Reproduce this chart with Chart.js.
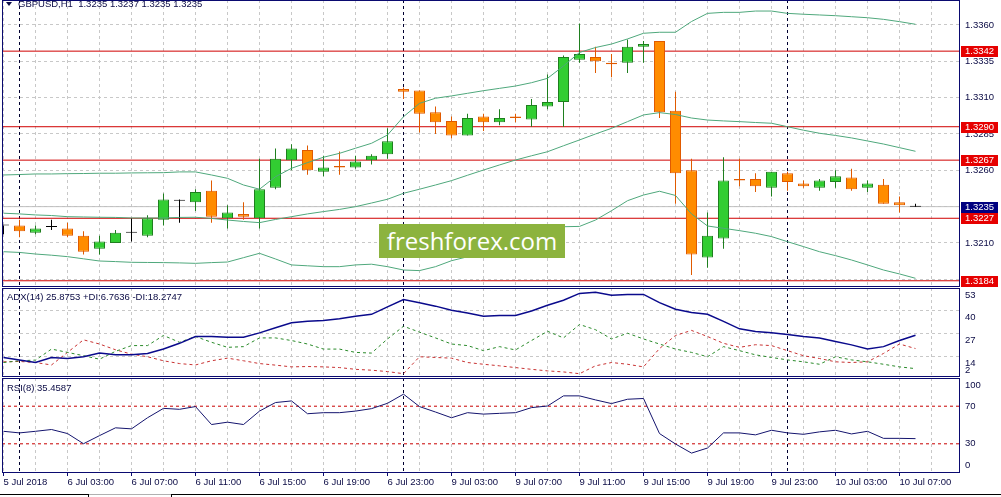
<!DOCTYPE html>
<html lang="en">
<head>
<meta charset="utf-8">
<title>GBPUSD,H1</title>
<script src="https://cdn.jsdelivr.net/npm/chart.js@4.4.1/dist/chart.umd.min.js"></script>
<style>
  html, body { margin: 0; padding: 0; background: #fff; }
  body { position: relative; width: 1001px; height: 497px; overflow: hidden;
         font-family: 'Liberation Sans', Arial, sans-serif; color: #0b0b45; }
  canvas { position: absolute; left: 0; }
  .caption { position: absolute; font-size: 9.5px; line-height: 11px; white-space: pre; }
  #title { left: 18px; top: -2px; }
  #arrow { position: absolute; left: 6px; top: 2px; width: 0; height: 0;
           border-left: 3px solid transparent; border-right: 3px solid transparent;
           border-top: 4px solid #0b0b45; }
  #adxCaption { left: 7px; top: 291px; }
  #rsiCaption { left: 7px; top: 382px; }
  #watermark { position: absolute; left: 379px; top: 224px; width: 186px; height: 34px;
               background: #8cb33e; color: #fff; font: 24px 'Open Sans', sans-serif;
               line-height: 33px; text-align: center; }
  .tab { position: absolute; top: 494px; height: 4px; border-top: 1px solid #000; }
</style>
</head>
<body>
<canvas id="mainChart" width="1001" height="287" style="top:0"></canvas>
<canvas id="adxChart" width="1001" height="89" style="top:288px"></canvas>
<canvas id="rsiChart" width="1001" height="119" style="top:378px"></canvas>

<div id="arrow"></div>
<div id="title" class="caption">GBPUSD,H1  1.3235 1.3237 1.3235 1.3235</div>
<div id="adxCaption" class="caption">ADX(14) 25.8753 +DI:6.7636 -DI:18.2747</div>
<div id="rsiCaption" class="caption">RSI(8) 35.4587</div>
<div id="watermark">freshforex.com</div>
<div class="tab" style="left:0;width:88px;border-right:1px solid #000"></div>
<div class="tab" style="left:89px;width:82px;border-top-color:#b0b0b0"></div>
<div class="tab" style="left:171px;width:830px;border-left:1px solid #000"></div>

<script>
// GBPUSD H1, 5 Jul 23:00 .. 10 Jul 08:00 (58 bars)
const opens = [1.3222,1.3222,1.3217,1.3221,1.3220,1.3215,1.3206,1.3210,1.3217,1.3215,
  1.3226,1.3239,1.3238,1.3246,1.3227,1.3230,1.3227,1.3248,1.3267,1.3274,
  1.3259,1.3263,1.3262,1.3267,1.3271,1.3316,1.3315,1.3300,1.3294,1.3284,
  1.3297,1.3293,1.3297,1.3295,1.3304,1.3307,1.3336,1.3338,1.3334,1.3334,
  1.3345,1.3349,1.3301,1.3260,1.3200,1.3213,1.3254,1.3254,1.3248,1.3258,
  1.3251,1.3248,1.3252,1.3255,1.3248,1.3250,1.3238,1.3235];
const highs = [1.3222,1.3226,1.3222,1.3226,1.3224,1.3218,1.3215,1.3219,1.3227,1.3229,
  1.3244,1.3240,1.3247,1.3253,1.3236,1.3238,1.3268,1.3275,1.3278,1.3277,
  1.3270,1.3273,1.3270,1.3271,1.3289,1.3317,1.3315,1.3304,1.3297,1.3299,
  1.3299,1.3302,1.3299,1.3309,1.3326,1.3339,1.3361,1.3345,1.3340,1.3350,
  1.3349,1.3349,1.3314,1.3268,1.3231,1.3269,1.3268,1.3258,1.3259,1.3259,
  1.3253,1.3254,1.3260,1.3261,1.3253,1.3254,1.3242,1.3237];
const lows = [1.3216,1.3214,1.3216,1.3219,1.3214,1.3202,1.3202,1.3210,1.3211,1.3214,
  1.3222,1.3224,1.3232,1.3224,1.3220,1.3226,1.3220,1.3247,1.3260,1.3257,
  1.3256,1.3257,1.3261,1.3264,1.3268,1.3309,1.3286,1.3285,1.3282,1.3284,
  1.3287,1.3291,1.3293,1.3290,1.3302,1.3290,1.3334,1.3327,1.3324,1.3327,
  1.3334,1.3296,1.3237,1.3188,1.3193,1.3206,1.3249,1.3245,1.3242,1.3246,
  1.3248,1.3246,1.3248,1.3246,1.3245,1.3237,1.3231,1.3235];
const closes = [1.3222,1.3218,1.3220,1.3221,1.3215,1.3204,1.3211,1.3217,1.3217,1.3227,
  1.3240,1.3239,1.3245,1.3228,1.3231,1.3228,1.3247,1.3268,1.3275,1.3260,
  1.3262,1.3262,1.3266,1.3270,1.3280,1.3314,1.3299,1.3293,1.3284,1.3296,
  1.3293,1.3296,1.3296,1.3305,1.3307,1.3338,1.3340,1.3335,1.3333,1.3345,
  1.3347,1.3300,1.3258,1.3202,1.3215,1.3253,1.3253,1.3249,1.3259,1.3252,
  1.3249,1.3253,1.3256,1.3247,1.3251,1.3237,1.3236,1.3235];

// Bollinger bands
const bbUpper = [1.32568,1.32571,1.32575,1.32575,1.32577,1.32578,1.32580,1.32580,1.32582,1.32583,
  1.32584,1.32589,1.32589,1.32568,1.32545,1.32499,1.32470,1.32556,1.32614,1.32653,
  1.32690,1.32717,1.32752,1.32786,1.32843,1.32969,1.33061,1.33096,1.33112,1.33130,
  1.33148,1.33164,1.33180,1.33203,1.33233,1.33318,1.33411,1.33445,1.33469,1.33504,
  1.33543,1.33550,1.33550,1.33624,1.33680,1.33687,1.33687,1.33696,1.33696,1.33680,
  1.33674,1.33669,1.33664,1.33657,1.33650,1.33639,1.33623,1.33605];
const bbMiddle = [1.32305,1.32300,1.32293,1.32289,1.32281,1.32279,1.32277,1.32276,1.32272,1.32272,
  1.32272,1.32276,1.32277,1.32269,1.32258,1.32248,1.32240,1.32262,1.32281,1.32300,
  1.32316,1.32331,1.32350,1.32375,1.32401,1.32442,1.32470,1.32499,1.32529,1.32566,
  1.32602,1.32637,1.32671,1.32700,1.32728,1.32769,1.32809,1.32850,1.32889,1.32935,
  1.32981,1.32997,1.32984,1.32960,1.32946,1.32940,1.32935,1.32929,1.32924,1.32900,
  1.32876,1.32855,1.32840,1.32823,1.32802,1.32781,1.32756,1.32731];
const bbLower = [1.32040,1.32035,1.32024,1.32016,1.32006,1.31991,1.31976,1.31972,1.31967,1.31966,
  1.31965,1.31963,1.31960,1.31965,1.31969,1.31999,1.32029,1.31990,1.31949,1.31943,
  1.31937,1.31937,1.31949,1.31954,1.31937,1.31914,1.31910,1.31937,1.31978,1.32005,
  1.32050,1.32095,1.32140,1.32175,1.32205,1.32212,1.32214,1.32258,1.32322,1.32391,
  1.32430,1.32456,1.32427,1.32300,1.32217,1.32201,1.32185,1.32167,1.32144,1.32109,
  1.32075,1.32040,1.32013,1.31983,1.31949,1.31914,1.31887,1.31857];

// ADX(14)
const adxMain = [13.2,11.7,10.3,13.2,12.6,13.6,15.7,14.7,14.7,15.5,
  18.0,21.3,25.2,25.2,24.8,24.8,27.3,30.2,33.1,34.0,
  34.4,35.4,36.8,37.9,42.2,46.4,44.5,42.6,40.2,38.7,
  36.8,37.3,37.3,39.8,43.1,46.0,49.9,50.5,48.9,49.3,
  49.3,44.6,40.8,38.9,37.9,33.9,29.6,28.1,27.3,26.3,
  25.2,24.4,22.3,20.4,18.0,19.4,22.9,25.9];
const plusDI = [10.3,11.3,11.7,18.0,16.1,14.2,12.2,16.7,20.0,20.0,
  25.8,21.9,25.2,21.9,19.0,19.4,24.4,24.4,22.9,20.9,
  18.0,18.0,16.1,15.7,23.8,31.1,27.7,24.4,20.9,20.0,
  17.1,19.4,17.5,22.9,28.2,24.4,32.1,29.1,23.8,27.1,
  23.8,20.9,18.0,16.1,13.6,19.4,17.1,14.7,13.2,11.8,
  10.7,9.3,13.6,11.8,10.7,9.3,7.8,6.8];
const minusDI = [10.7,10.9,10.3,8.9,16.1,23.3,20.9,17.6,15.1,13.6,
  11.3,9.7,8.9,11.3,12.8,11.3,9.7,8.8,7.8,8.0,
  7.8,7.4,6.4,5.9,5.1,3.9,13.6,13.2,12.8,10.3,
  9.3,8.4,7.4,6.4,5.5,4.9,3.9,8.4,10.3,9.3,
  7.8,18.3,25.8,28.7,25.2,21.3,19.0,20.5,20.0,17.1,
  14.2,12.6,10.7,10.3,10.7,15.5,20.9,18.3];

// RSI(8)
const rsi = [43.3,41.6,43.3,45.2,40.9,30.1,38.7,47.0,45.9,57.7,
  67.7,66.7,69.6,50.5,53.0,50.5,64.8,73.9,75.6,62.0,
  63.1,63.1,64.8,67.4,73.1,82.8,69.6,63.8,57.7,63.1,
  61.6,62.4,63.1,68.5,70.2,81.0,81.0,76.7,72.8,77.4,
  78.2,40.9,29.8,20.1,25.5,41.6,41.6,39.5,44.4,41.6,
  40.1,42.7,44.4,40.5,43.3,35.8,35.8,35.5];

// levels and axis ticks
const levels = [1.3342, 1.3290, 1.3267, 1.3227, 1.3184];
const lastPrice = 1.3235;
const priceTicks = [1.3185, 1.3210, 1.3235, 1.3260, 1.3285, 1.3310, 1.3335, 1.3360];
const adxTicks = [53, 40, 27, 14, 2];
const rsiTicks = [100, 70, 30, 0];
const rsiLevels = [70, 30];
const daySeparators = [1, 25, 49];
// one label every 4 bars, starting at bar 0
const timeLabels = ['5 Jul 2018', '6 Jul 03:00', '6 Jul 07:00', '6 Jul 11:00', '6 Jul 15:00',
  '6 Jul 19:00', '6 Jul 23:00', '9 Jul 03:00', '9 Jul 07:00', '9 Jul 11:00', '9 Jul 15:00',
  '9 Jul 19:00', '9 Jul 23:00', '10 Jul 03:00', '10 Jul 07:00'];

const X_MIN = -0.09375, X_MAX = 59.71875;
const PRICE_MIN = 1.31804, PRICE_MAX = 1.33772;

const TEXT = '#0b0b45';
const FRAME = '#0a0a70';
const GRID = '#c8c8c8';
const LEVEL = '#d00000';
const BULL_FILL = '#32cd32', BULL_LINE = '#1f7f1f';
const BEAR_FILL = '#ff8c00', BEAR_LINE = '#e05a00';
const DOJI = '#000000';
const BB = '#4fa87c';
const FONT = '9.5px "Liberation Sans", Arial, sans-serif';

Chart.defaults.font.family = '"Liberation Sans", Arial, sans-serif';
Chart.defaults.font.size = 9.5;
Chart.defaults.color = TEXT;

const gridIdx = [];
for (let i = 0; i <= 58; i += 2) gridIdx.push(i);

const series = arr => arr.map((v, i) => ({x: i, y: v}));
const hline = v => [{x: X_MIN, y: v}, {x: X_MAX, y: v}];
const lineDs = (data, color, extra) => Object.assign({
  type: 'line', data, borderColor: color, borderWidth: 1,
  pointRadius: 0, fill: false, tension: 0
}, extra || {});

function xAxis(showLabels) {
  return {
    type: 'linear', min: X_MIN, max: X_MAX, offset: false,
    afterBuildTicks: s => { s.ticks = gridIdx.map(v => ({value: v})); },
    grid: {
      color: GRID, offset: false, drawTicks: showLabels, tickLength: 4,
      tickColor: c => (c.tick && c.tick.value % 4 === 0) ? FRAME : 'rgba(0,0,0,0)'
    },
    border: { display: false, dash: [3, 3] },
    ticks: {
      display: showLabels, autoSkip: false, maxRotation: 0, minRotation: 0,
      align: 'start', padding: 1, color: TEXT,
      callback: v => (v % 4 === 0 && timeLabels[v / 4]) || ''
    },
    afterFit: s => { s.paddingLeft = 0; s.paddingRight = 0; s.height = showLabels ? 25 : 0; }
  };
}

function yAxis(min, max, ticks, extra) {
  return Object.assign({
    position: 'right', min, max,
    afterBuildTicks: s => { s.ticks = ticks.map(v => ({value: v})); },
    grid: { color: GRID, drawTicks: false },
    border: { display: false, dash: [3, 3] },
    ticks: { display: false },
    afterFit: s => { s.width = 42; s.paddingTop = 0; s.paddingBottom = 0; }
  }, extra || {});
}

const framePlugin = {
  id: 'frame',
  afterDatasetsDraw(chart) {
    const {ctx, chartArea: a} = chart;
    const top = a.top + 0.5, bottom = Math.min(a.bottom + 0.5, chart.height - 0.5);
    ctx.save();
    ctx.strokeStyle = FRAME;
    ctx.lineWidth = 1;
    ctx.strokeRect(a.left + 0.5, top, a.right - a.left, bottom - top);
    ctx.restore();
  }
};

const separatorPlugin = {
  id: 'daySeparators',
  beforeDatasetsDraw(chart) {
    const {ctx, chartArea: a, scales: {x}} = chart;
    ctx.save();
    ctx.strokeStyle = '#000030';
    ctx.lineWidth = 1;
    ctx.setLineDash([3, 3]);
    daySeparators.forEach(i => {
      const px = Math.floor(x.getPixelForValue(i)) + 0.5;
      ctx.beginPath();
      ctx.moveTo(px, a.top);
      ctx.lineTo(px, a.bottom);
      ctx.stroke();
    });
    ctx.restore();
  }
};

// MT4-like side scale: labels clamped inside the panel
function sideLabels(values, offset) {
  return {
    id: 'sideLabels',
    afterDraw(chart) {
      const {ctx, chartArea: a, scales: {y}} = chart;
      ctx.save();
      ctx.fillStyle = TEXT;
      ctx.font = FONT;
      ctx.textAlign = 'left';
      ctx.textBaseline = 'middle';
      values.forEach(v => {
        let py = y.getPixelForValue(v) + offset;
        py = Math.max(a.top + 7, Math.min(a.bottom - 7, py));
        ctx.fillText(String(v), a.right + 6, py);
      });
      ctx.restore();
    }
  };
}

const priceBoxes = {
  id: 'priceBoxes',
  afterDraw(chart) {
    const {ctx, chartArea: a, scales: {y}} = chart;
    ctx.save();
    ctx.font = FONT;
    ctx.textAlign = 'left';
    ctx.textBaseline = 'middle';
    const box = (v, bg) => {
      const py = Math.round(y.getPixelForValue(v));
      ctx.fillStyle = bg;
      ctx.fillRect(a.right + 2, py - 5, 37, 11);
      ctx.fillStyle = '#ffffff';
      ctx.fillText(v.toFixed(4), a.right + 6, py + 0.5);
    };
    levels.forEach(v => box(v, '#e60000'));
    box(lastPrice, '#000080');
    ctx.restore();
  }
};

const idx = opens.map((_, i) => i);
const isDoji = i => opens[i] === closes[i];
const isBull = i => closes[i] > opens[i];
const candleLine = i => isDoji(i) ? DOJI : (isBull(i) ? BULL_LINE : BEAR_LINE);
const candleFill = i => isDoji(i) ? DOJI : (isBull(i) ? BULL_FILL : BEAR_FILL);

const common = {
  responsive: false,
  devicePixelRatio: 1,
  animation: false,
  events: [],
  plugins: { legend: { display: false }, tooltip: { enabled: false } }
};

new Chart(document.getElementById('mainChart'), {
  type: 'line',
  data: {
    datasets: [
      lineDs(series(bbUpper), BB, { order: 0 }),
      lineDs(series(bbMiddle), BB, { order: 0 }),
      lineDs(series(bbLower), BB, { order: 0 }),
      {
        type: 'bar', order: 1,
        data: idx.map(i => ({x: i, y: [opens[i], closes[i]]})),
        backgroundColor: c => candleFill(c.dataIndex),
        borderColor: c => candleLine(c.dataIndex),
        borderWidth: 1, borderSkipped: false, barThickness: 11,
        grouped: false, minBarLength: 1, inflateAmount: 0
      },
      {
        type: 'bar', order: 2,
        data: idx.map(i => ({x: i, y: [lows[i], highs[i]]})),
        backgroundColor: c => candleLine(c.dataIndex),
        borderWidth: 0, barThickness: 1, grouped: false, inflateAmount: 0
      },
      ...levels.map(v => lineDs(hline(v), LEVEL, { order: 3 })),
      lineDs(hline(lastPrice), '#c0c0c0', { order: 4 })
    ]
  },
  options: Object.assign({}, common, {
    layout: { padding: { left: 2, right: 0, top: 0, bottom: 1 } },
    scales: {
      x: xAxis(false),
      y: yAxis(PRICE_MIN, PRICE_MAX, priceTicks, {
        ticks: { display: true, padding: 6, color: TEXT, callback: v => v.toFixed(4) }
      })
    }
  }),
  plugins: [separatorPlugin, framePlugin, priceBoxes]
});

new Chart(document.getElementById('adxChart'), {
  type: 'line',
  data: {
    datasets: [
      lineDs(series(adxMain), '#0a0a8c', { borderWidth: 1.5 }),
      lineDs(series(plusDI), '#2a8a2a', { borderDash: [3, 3] }),
      lineDs(series(minusDI), '#c83232', { borderDash: [3, 3] })
    ]
  },
  options: Object.assign({}, common, {
    layout: { padding: { left: 2, right: 0, top: 0, bottom: 0 } },
    scales: { x: xAxis(false), y: yAxis(2, 53, adxTicks) }
  }),
  plugins: [separatorPlugin, framePlugin, sideLabels(adxTicks, 7)]
});

new Chart(document.getElementById('rsiChart'), {
  type: 'line',
  data: {
    datasets: [
      lineDs(series(rsi), '#14146e', { order: 0 }),
      ...rsiLevels.map(v => lineDs(hline(v), '#c80000', { borderDash: [3, 3], order: 1 }))
    ]
  },
  options: Object.assign({}, common, {
    layout: { padding: { left: 2, right: 0, top: 0, bottom: 0 } },
    scales: {
      x: xAxis(true),
      y: yAxis(0, 100, rsiTicks, { grid: { display: false } })
    }
  }),
  plugins: [separatorPlugin, framePlugin, sideLabels(rsiTicks, 0)]
});
</script>
</body>
</html>
